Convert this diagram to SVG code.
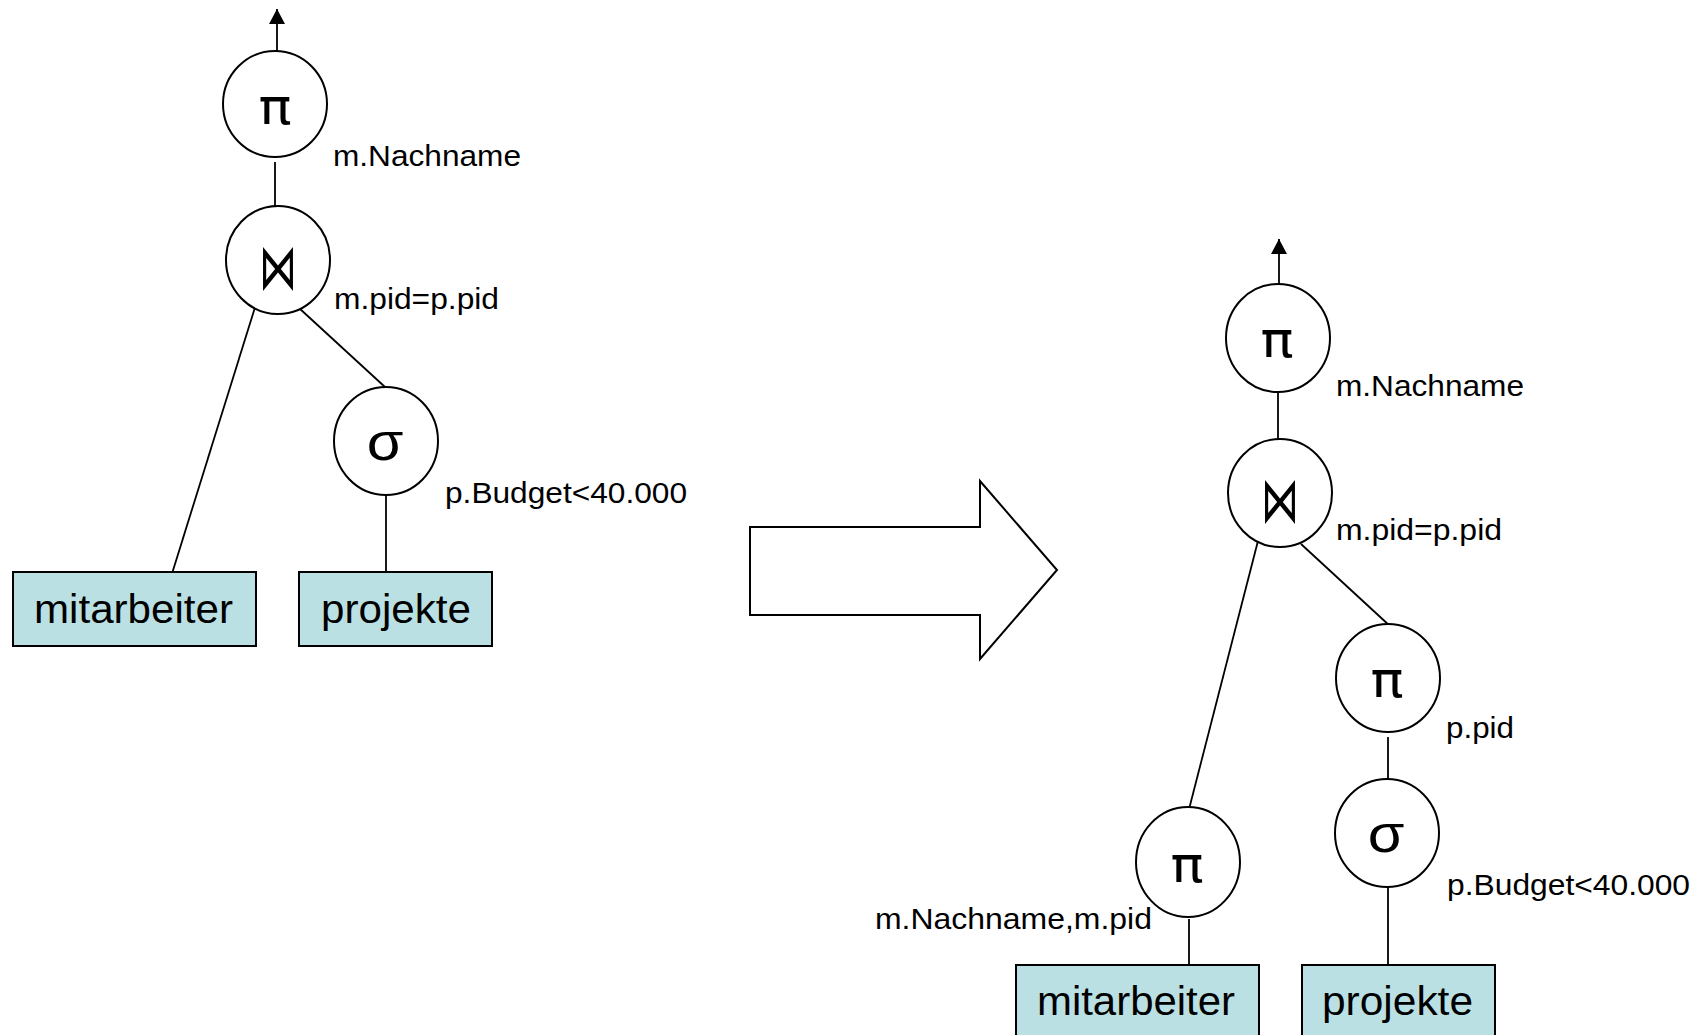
<svg xmlns="http://www.w3.org/2000/svg" width="1700" height="1035" viewBox="0 0 1700 1035">
<defs>
<style>
.op{fill:#fff;stroke:#000;stroke-width:2}
.rel{fill:#bbe0e3;stroke:#000;stroke-width:2}
.con{stroke:#000;stroke-width:1.8;fill:none}
.lbl{font-family:"Liberation Sans",Arial,sans-serif;font-size:29px;fill:#000}
.rtx{font-family:"Liberation Sans",Arial,sans-serif;font-size:40px;fill:#000}
.sym{font-family:"DejaVu Sans",sans-serif;font-size:50px;fill:#000;text-anchor:middle}
.sig{font-family:"Liberation Sans",Arial,sans-serif;font-size:54px;fill:#000;text-anchor:middle}
.bow{font-family:"DejaVu Sans",sans-serif;font-weight:200;font-size:40px;fill:#000;text-anchor:middle}
</style>
<marker id="ah" markerUnits="userSpaceOnUse" markerWidth="16" markerHeight="16" refX="15" refY="8" orient="auto">
<path d="M0,0 L15,8 L0,16 z" fill="#000"/>
</marker>
</defs>
<rect width="1700" height="1035" fill="#fff"/>

<g id="connectors">
<line class="con" x1="277" y1="51" x2="277" y2="9" marker-end="url(#ah)"/>
<line class="con" x1="275" y1="162" x2="275" y2="206"/>
<line class="con" x1="254.5" y1="309" x2="172.5" y2="572"/>
<line class="con" x1="299" y1="308" x2="385" y2="387"/>
<line class="con" x1="386" y1="495" x2="386" y2="572"/>

<line class="con" x1="1279" y1="284" x2="1279" y2="239" marker-end="url(#ah)"/>
<line class="con" x1="1278" y1="392" x2="1278" y2="439"/>
<line class="con" x1="1257.7" y1="542" x2="1189.4" y2="807.7"/>
<line class="con" x1="1301" y1="544" x2="1387.8" y2="624"/>
<line class="con" x1="1388" y1="737" x2="1388" y2="779"/>
<line class="con" x1="1388" y1="887" x2="1388" y2="965"/>
<line class="con" x1="1189" y1="919" x2="1189" y2="965"/>
</g>

<g id="big-arrow">
<polygon points="750,527 980,527 980,481 1057,570 980,659 980,615 750,615" fill="#fff" stroke="#000" stroke-width="2"/>
</g>

<!-- left tree -->
<g id="L-proj">
<ellipse class="op" cx="275" cy="104" rx="52" ry="53"/>
<text class="sym" transform="translate(275,124) scale(1.1,1)">π</text>
<text class="lbl" x="333" y="166" textLength="188" lengthAdjust="spacingAndGlyphs">m.Nachname</text>
</g>
<g id="L-join">
<ellipse class="op" cx="278" cy="260" rx="52" ry="54"/>
<text class="bow" transform="translate(278,289) scale(0.95,1.6)">⋈</text>
<text class="lbl" x="334" y="309" textLength="165" lengthAdjust="spacingAndGlyphs">m.pid=p.pid</text>
</g>
<g id="L-sel">
<ellipse class="op" cx="386" cy="441" rx="52" ry="54"/>
<text class="sig" transform="translate(385,460) scale(1.1,1)">σ</text>
<text class="lbl" x="445" y="503" textLength="242" lengthAdjust="spacingAndGlyphs">p.Budget&lt;40.000</text>
</g>
<g id="L-mitarbeiter">
<rect class="rel" x="13" y="572" width="243" height="74"/>
<text class="rtx" x="34" y="623" textLength="199" lengthAdjust="spacingAndGlyphs">mitarbeiter</text>
</g>
<g id="L-projekte">
<rect class="rel" x="299" y="572" width="193" height="74"/>
<text class="rtx" x="321" y="623" textLength="150" lengthAdjust="spacingAndGlyphs">projekte</text>
</g>

<!-- right tree -->
<g id="R-proj">
<ellipse class="op" cx="1278" cy="338" rx="52" ry="54"/>
<text class="sym" transform="translate(1277,357) scale(1.1,1)">π</text>
<text class="lbl" x="1336" y="396" textLength="188" lengthAdjust="spacingAndGlyphs">m.Nachname</text>
</g>
<g id="R-join">
<ellipse class="op" cx="1280" cy="493" rx="52" ry="54"/>
<text class="bow" transform="translate(1280,522) scale(0.95,1.6)">⋈</text>
<text class="lbl" x="1336" y="540" textLength="166" lengthAdjust="spacingAndGlyphs">m.pid=p.pid</text>
</g>
<g id="R-proj-p">
<ellipse class="op" cx="1388" cy="678" rx="52" ry="54"/>
<text class="sym" transform="translate(1387,697) scale(1.1,1)">π</text>
<text class="lbl" x="1446" y="738" textLength="68" lengthAdjust="spacingAndGlyphs">p.pid</text>
</g>
<g id="R-sel">
<ellipse class="op" cx="1387" cy="833" rx="52" ry="54"/>
<text class="sig" transform="translate(1386,852) scale(1.1,1)">σ</text>
<text class="lbl" x="1447" y="895" textLength="243" lengthAdjust="spacingAndGlyphs">p.Budget&lt;40.000</text>
</g>
<g id="R-proj-m">
<ellipse class="op" cx="1188" cy="862" rx="52" ry="55"/>
<text class="sym" transform="translate(1187,882) scale(1.1,1)">π</text>
<text class="lbl" x="875" y="929" textLength="277" lengthAdjust="spacingAndGlyphs">m.Nachname,m.pid</text>
</g>
<g id="R-mitarbeiter">
<rect class="rel" x="1016" y="965" width="243" height="74"/>
<text class="rtx" x="1037" y="1015" textLength="198" lengthAdjust="spacingAndGlyphs">mitarbeiter</text>
</g>
<g id="R-projekte">
<rect class="rel" x="1302" y="965" width="193" height="74"/>
<text class="rtx" x="1322" y="1015" textLength="151" lengthAdjust="spacingAndGlyphs">projekte</text>
</g>
</svg>
